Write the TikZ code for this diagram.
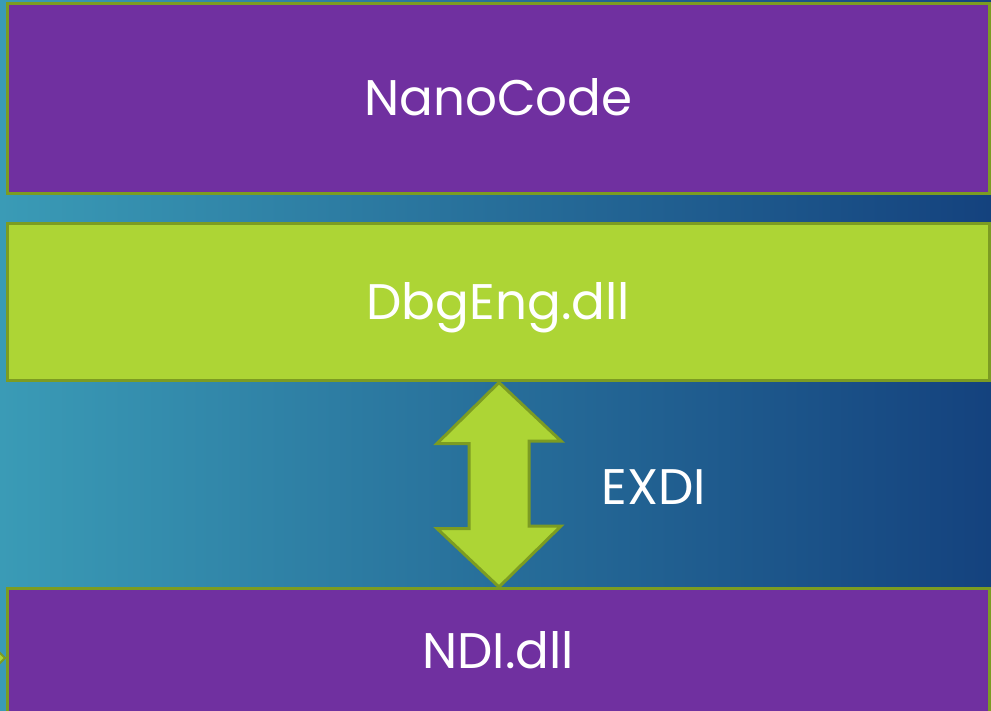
\documentclass[tikz,border=0pt]{standalone}
\usepackage{fontspec}
\setmainfont{Poppins}
\usetikzlibrary{calc}
\definecolor{bgL}{HTML}{3A9BB6}
\definecolor{bgM}{HTML}{246A96}
\definecolor{bgR}{HTML}{14427E}
\definecolor{boxpurple}{HTML}{7030A0}
\definecolor{boxgreen}{HTML}{ADD535}
\definecolor{edgegreen}{HTML}{7C9C22}
\tikzset{
  layerbox/.style={draw=edgegreen, line width=3pt, inner sep=0pt,
    text=white, font=\fontsize{50}{60}\selectfont, text height=35pt, text depth=0pt},
  purplebox/.style={layerbox, fill=boxpurple},
  greenbox/.style={layerbox, fill=boxgreen},
  lbl/.style={text=white, font=\fontsize{50}{60}\selectfont, text height=35pt, text depth=0pt, inner sep=0pt},
  bigarrow/.style={fill=boxgreen, draw=edgegreen, line width=3pt, line join=miter}
}
\begin{document}
\begin{tikzpicture}[x=1pt,y=-1pt]
\useasboundingbox (0,0) rectangle (991,711);
\clip (0,0) rectangle (991,711);
\fill[left color=bgL, middle color=bgM, right color=bgR] (0,0) rectangle (991,711);
% small partial arrowhead at left edge
\fill[boxgreen, draw=edgegreen, line width=2pt] (-4,649) coordinate (ta) -- (5,658) coordinate (tb) -- (-4,667) coordinate (tc) -- cycle;
\node[purplebox, minimum width=982.5pt, minimum height=190pt] (nano) at (498.25,98.5) {NanoCode};
\node[greenbox, minimum width=982.5pt, minimum height=157pt] (dbg) at (498.25,302.5) {DbgEng.dll};
\node[purplebox, minimum width=982.5pt, minimum height=125pt] (ndi) at (498.25,651) {NDI.dll};
\coordinate (top) at ($(dbg.south)+(0.75,0)$);
\coordinate (bot) at ($(ndi.north)+(0.75,0)$);
\draw[bigarrow] (top) -- ++(-62,61) -- ++(32,0) -- ++(0,85) -- ++(-32,0) -- (bot)
  -- ++(62,-61) -- ++(-32,0) -- ++(0,-85) -- ++(32,0) -- cycle;
\node[lbl] (exdi) at (654,487) {EXDI};
\end{tikzpicture}
\end{document}
